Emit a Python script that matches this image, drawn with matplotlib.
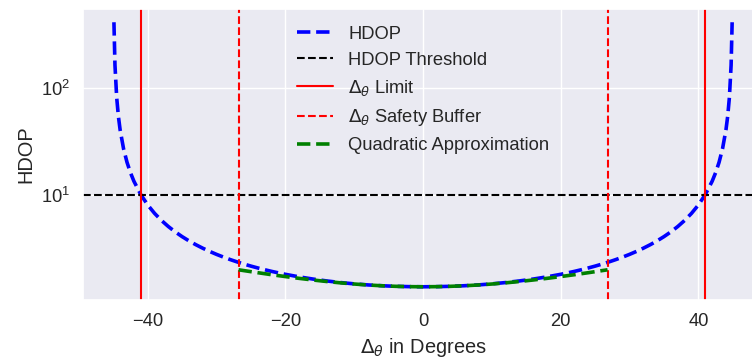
import numpy as np
import matplotlib
matplotlib.use("Agg")
import matplotlib.pyplot as plt
import seaborn as sns

# HDOP vs angle offset (degrees)
angles = [-44.9, -44.75, -44.5, -44.25, -44, -43.5, -43, -42.5, -42, -41, -40, -39, -38,
          -37, -36, -35, -34, -33, -32, -31, -30, -29, -28, -27, -26, -25, -24, -23,
          -22, -21, -20, -18, -16, -14, -12, -10, -8, -6, -4, -2, 0,
          2, 4, 6, 8, 10, 12, 14, 16, 18, 20, 21, 22, 23, 24, 25, 26, 27, 28, 29,
          30, 31, 32, 33, 34, 35, 36, 37, 38, 39, 40, 41, 42, 42.5, 43, 43.5, 44,
          44.25, 44.5, 44.75, 44.9]
hdop = [405.1, 162.1, 81.03, 54.02, 40.52, 27.02, 20.27, 16.23, 13.53, 10.16, 8.144, 6.802, 5.846,
        5.131, 4.576, 4.135, 3.775, 3.477, 3.226, 3.012, 2.828, 2.669, 2.529, 2.406, 2.297, 2.200, 2.114, 2.036,
        1.966, 1.903, 1.846, 1.748, 1.668, 1.602, 1.548, 1.505, 1.471, 1.446, 1.428, 1.418, 1.414,
        1.418, 1.428, 1.446, 1.471, 1.505, 1.548, 1.602, 1.668, 1.748, 1.846, 1.903, 1.966, 2.036, 2.114, 2.200,
        2.297, 2.406, 2.529, 2.669, 2.828, 3.012, 3.226, 3.477, 3.775, 4.135, 4.576, 5.131, 5.846, 6.802,
        8.144, 10.16, 13.53, 16.23, 20.27, 27.02, 40.52, 54.02, 81.03, 162.1, 405.1]

# quadratic approximation, only inside the safety buffer
quad_angles = [-26.8, -24, -22, -20, -18, -16, -14, -12, -10, -8, -6, -4, -2, 0,
               2, 4, 6, 8, 10, 12, 14, 16, 18, 20, 22, 24, 26.8]
quad_hdop = [2.033, 1.911, 1.831, 1.759, 1.693, 1.635, 1.583, 1.538, 1.500, 1.469, 1.445, 1.428, 1.418, 1.414,
             1.418, 1.428, 1.445, 1.469, 1.500, 1.538, 1.583, 1.635, 1.693, 1.759, 1.831, 1.911, 2.033]

hdop_threshold = 10
limit_angle = 40.9
buffer_angle = 26.8

sns.set_theme(style="darkgrid", font_scale=1.2)
plt.rcParams["font.family"] = ["Liberation Sans", "DejaVu Sans"]

fig = plt.figure(figsize=(7.52, 3.58), dpi=100)
ax = fig.add_axes([0.1104, 0.162, 0.9043, 0.8128])

ax.plot(angles, hdop, color="#0000ff", ls="--", lw=2.6, label="HDOP")
ax.axhline(hdop_threshold, color="black", ls="--", lw=1.5, label="HDOP Threshold")
ax.axvline(-limit_angle, color="#ff0000", ls="-", lw=1.5, label=r"$\Delta_\theta$ Limit")
ax.axvline(limit_angle, color="#ff0000", ls="-", lw=1.5)
ax.axvline(-buffer_angle, color="#ff0000", ls="--", lw=1.5, label=r"$\Delta_\theta$ Safety Buffer")
ax.axvline(buffer_angle, color="#ff0000", ls="--", lw=1.5)
ax.plot(quad_angles, quad_hdop, color="#008000", ls="--", lw=2.6, label="Quadratic Approximation")

ax.set_yscale("log")
ax.set_xlabel(r"$\Delta_\theta$ in Degrees")
ax.set_ylabel("HDOP")
ax.legend(loc="upper center", frameon=False)

fig.savefig("out.png", dpi=100)
